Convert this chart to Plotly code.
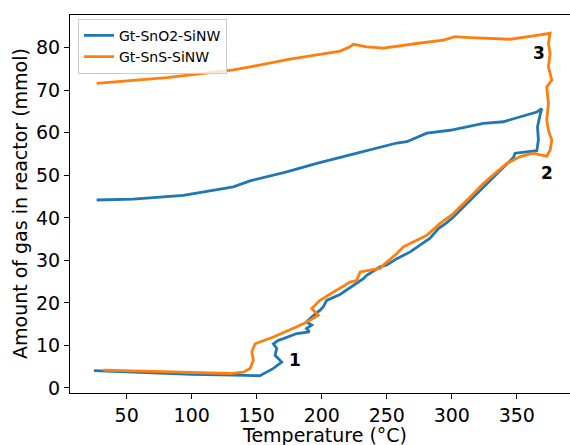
import plotly.graph_objects as go

# Gt-SnO2-SiNW (blue)
blue_temp = [24.8, 60, 100, 131.8, 152.5, 162.8, 169.2, 164.1, 165.4, 162.8, 166.6, 170.5,
             180.8, 190.5, 188.3, 192.3, 188.3, 191.0, 193.5, 198.7, 201.2, 203.8, 214,
             226.9, 232, 234.6, 244.8, 250, 257.7, 268, 278.2, 283.3, 289.7, 296.2, 301.2,
             321.8, 337.2, 347.4, 348.7, 365.4, 366.6, 365.9, 367.9, 369.2, 365.4, 352.5,
             342.3, 339.7, 324.3, 298.7, 280.8, 265.4, 257.7, 245.5, 221.8, 196.2, 173.0,
             144.8, 132, 93.5, 55, 26.9]
blue_gas = [4.1, 3.6, 3.2, 3.0, 2.9, 4.6, 6.1, 7.7, 9.3, 10.4, 11.2, 11.6,
            12.8, 13.2, 14.0, 14.8, 15.5, 16.3, 16.9, 18.3, 19.1, 20.6, 22.0,
            24.6, 25.7, 26.5, 28.5, 28.9, 30.4, 32.0, 34.0, 35.2, 37.5, 38.9, 40.2,
            46.5, 51.2, 54.2, 55.2, 55.8, 58.3, 61.4, 64.2, 65.7, 64.9, 63.8,
            63.0, 62.6, 62.2, 60.6, 59.9, 57.9, 57.6, 56.7, 54.8, 52.8, 50.8,
            48.7, 47.3, 45.3, 44.4, 44.2]

# Gt-SnS-SiNW (orange)
orange_temp = [32, 80, 129.5, 139.7, 144.8, 147.4, 146.2, 148.7, 157.7, 162.8, 180.8, 188.5,
               197.4, 192.3, 198.6, 208.9, 221.8, 226.9, 229.5, 237.2, 244.8, 247.4, 257.7,
               262.8, 270.5, 280.8, 291, 301.2, 314.1, 324.3, 334.6, 342.3, 352.5, 362.8,
               368, 373, 375.6, 376.9, 374.3, 373, 374.3, 373, 376.9, 374.3, 375.6, 374.3,
               375.6, 368, 362.8, 344.9, 324.3, 314.1, 302.5, 293.5, 273, 255.1, 247.4,
               234.6, 224.3, 221.8, 214.1, 196.2, 175.6, 144.8, 132, 80.8, 26.9]
orange_gas = [4.2, 3.8, 3.4, 3.7, 4.6, 6.5, 8.5, 10.4, 11.4, 12.0, 14.4, 15.5,
              17.1, 18.7, 20.6, 22.6, 24.9, 25.3, 27.3, 27.7, 28.1, 28.9, 31.6,
              33.2, 34.4, 35.9, 38.7, 41.0, 44.9, 48.1, 50.8, 52.8, 54.4, 55.2,
              54.8, 54.5, 55.9, 58.3, 60.6, 63.0, 66.9, 70.8, 72.4, 75.5, 78.7, 81.0,
              83.4, 83.0, 82.8, 82.0, 82.2, 82.4, 82.6, 81.8, 81.0, 80.2, 79.9,
              80.2, 80.8, 80.2, 79.2, 78.3, 77.3, 75.5, 74.8, 73.0, 71.6]

x_ticks = [50, 100, 150, 200, 250, 300, 350]
y_ticks = [0, 10, 20, 30, 40, 50, 60, 70, 80]

labels = ["1", "2", "3"]
label_temp = [179.4, 373.0, 367.2]
label_gas = [6.5, 50.6, 78.7]

FONT = "DejaVu Sans"

fig = go.Figure()
fig.add_trace(go.Scatter(x=blue_temp, y=blue_gas, mode="lines", name="Gt-SnO2-SiNW",
                         line=dict(color="#1f77b4", width=2.8)))
fig.add_trace(go.Scatter(x=orange_temp, y=orange_gas, mode="lines", name="Gt-SnS-SiNW",
                         line=dict(color="#ff7f0e", width=2.8)))

for t, tx, ty in zip(labels, label_temp, label_gas):
    fig.add_annotation(x=tx, y=ty, text="<b>%s</b>" % t, showarrow=False,
                       font=dict(family=FONT, size=17, color="black"))

fig.add_annotation(xref="paper", yref="paper", x=0.508, y=0, yshift=-42, text="Temperature (°C)",
                   showarrow=False, yanchor="middle", font=dict(family=FONT, size=19, color="black"))
fig.add_annotation(xref="paper", yref="paper", x=0, xshift=-50, y=0.5, textangle=-90,
                   text="Amount of gas in reactor (mmol)", showarrow=False, xanchor="center",
                   font=dict(family=FONT, size=19, color="black"))

fig.update_layout(
    width=570, height=445,
    margin=dict(l=70, r=0, t=15, b=52),
    paper_bgcolor="white", plot_bgcolor="white",
    font=dict(family=FONT, size=19, color="black"),
    showlegend=True,
    legend=dict(x=0.016, y=0.99, xanchor="left", yanchor="top",
                bgcolor="rgba(255,255,255,0.8)", bordercolor="#cccccc", borderwidth=1,
                font=dict(family=FONT, size=14, color="black"),
                tracegroupgap=2),
    xaxis=dict(range=[6.4, 390.9], tickvals=x_ticks, showgrid=False, zeroline=False,
               showline=True, linecolor="black", linewidth=1, mirror=True,
               ticks="outside", ticklen=5, tickwidth=1, tickcolor="black",
               tickfont=dict(family=FONT, size=19, color="black")),
    yaxis=dict(range=[-1.18, 87.7], tickvals=y_ticks, showgrid=False, zeroline=False,
               showline=True, linecolor="black", linewidth=1, mirror=False,
               ticks="outside", ticklen=5, tickwidth=1, tickcolor="black",
               tickfont=dict(family=FONT, size=19, color="black")),
)

fig.write_html("out.html")
